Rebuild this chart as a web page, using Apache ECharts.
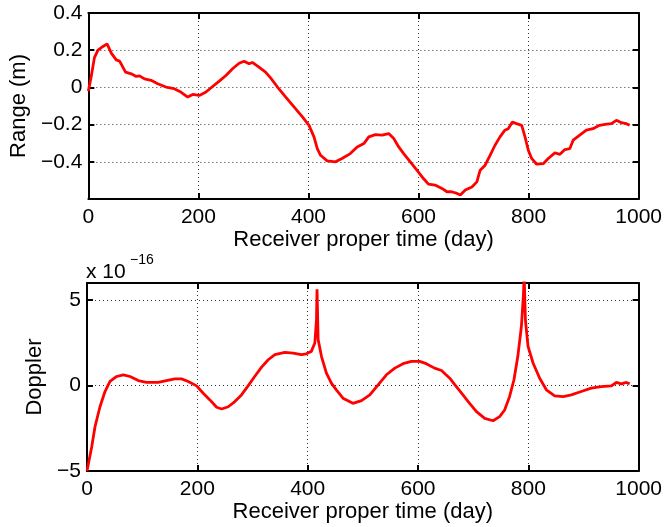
<!DOCTYPE html>
<html>
<head>
<meta charset="utf-8">
<script src="https://cdn.jsdelivr.net/npm/echarts@6/dist/echarts.min.js"></script>
<style>html,body{margin:0;padding:0;background:#fff}#c{width:665px;height:527px}</style>
</head>
<body>
<div id="c"></div>
<script>
// ---- data ----
var xTicks = [0, 200, 400, 600, 800, 1000];
var rangeTicks = [-0.4, -0.2, 0, 0.2, 0.4];
var dopplerTicks = [-5, 0, 5];

var rangeDays = [0, 5, 11, 17.5, 26.6, 34, 41.7, 50.7, 56.8, 67.6, 78, 87, 93, 102, 114, 126, 141, 156, 168, 180.6, 189.6, 201.7, 213.8, 225.8, 237.9, 250, 262, 274, 283, 292, 298, 310, 322, 331.5, 343.7, 358.7, 373.7, 389, 401, 410, 416, 422, 434, 449, 461, 476, 488.6, 500.6, 509.6, 521.7, 533.8, 545.8, 555, 564, 573, 585, 597, 609, 618, 630, 642.6, 651.6, 660, 670, 676, 685, 697, 706, 712, 721, 730, 739, 748, 757, 763, 770.5, 778, 787.5, 793.5, 799.5, 805.6, 814.6, 826.6, 835.7, 847.8, 857, 866, 875, 881, 893, 905, 917, 929, 941.5, 950.5, 959.6, 968.6, 977.7, 983.7];
var rangeM = [-0.02, 0.055, 0.16, 0.20, 0.22, 0.234, 0.184, 0.148, 0.141, 0.082, 0.073, 0.059, 0.062, 0.046, 0.038, 0.02, 0.002, -0.007, -0.025, -0.052, -0.038, -0.043, -0.025, 0.005, 0.034, 0.064, 0.10, 0.13, 0.141, 0.127, 0.134, 0.109, 0.082, 0.05, 0.002, -0.052, -0.105, -0.159, -0.204, -0.266, -0.329, -0.365, -0.395, -0.40, -0.382, -0.356, -0.32, -0.302, -0.266, -0.254, -0.257, -0.248, -0.275, -0.32, -0.356, -0.40, -0.445, -0.49, -0.52, -0.525, -0.543, -0.561, -0.561, -0.57, -0.579, -0.552, -0.535, -0.508, -0.445, -0.418, -0.365, -0.311, -0.266, -0.23, -0.222, -0.186, -0.195, -0.204, -0.266, -0.338, -0.382, -0.413, -0.41, -0.382, -0.352, -0.36, -0.334, -0.329, -0.284, -0.257, -0.23, -0.222, -0.204, -0.198, -0.195, -0.177, -0.19, -0.195, -0.204];

var dopplerDays = [0, 2.4, 8.5, 14.5, 23.5, 32.6, 41.7, 53.8, 65.8, 78, 93, 108, 129, 144, 159, 171.5, 183.5, 198.7, 210.7, 222.8, 235, 244, 256, 268, 280, 292, 304, 316.5, 328.5, 340.6, 358.7, 373.7, 388.6, 397.6, 406.7, 413, 416, 417, 419, 425, 434, 443, 452, 464, 482, 497.6, 512.7, 527.7, 542.8, 558, 573, 588, 603, 615, 630, 642.6, 657.6, 667, 679, 691, 706, 721, 736, 748, 757, 766, 774, 781, 787.5, 791, 792.5, 794.7, 799.5, 808.6, 820.6, 832.7, 847.8, 863, 878, 896, 914, 932, 950.5, 959.6, 968.6, 977.7, 983.7];
var doppler = [-5.0, -4.96, -3.59, -2.41, -1.24, -0.35, 0.24, 0.53, 0.63, 0.53, 0.29, 0.18, 0.18, 0.29, 0.39, 0.39, 0.24, -0.02, -0.45, -0.84, -1.27, -1.37, -1.24, -0.94, -0.55, -0.02, 0.53, 1.08, 1.51, 1.81, 1.94, 1.9, 1.81, 1.86, 2.0, 2.49, 3.86, 5.63, 2.69, 1.71, 0.73, 0.14, -0.25, -0.74, -1.04, -0.88, -0.55, 0.04, 0.63, 1.02, 1.28, 1.41, 1.41, 1.28, 1.02, 0.88, 0.43, 0.04, -0.45, -0.94, -1.53, -1.92, -2.06, -1.82, -1.43, -0.65, 0.34, 1.71, 3.47, 5.24, 6.4, 3.86, 2.29, 1.32, 0.43, -0.25, -0.61, -0.65, -0.55, -0.35, -0.15, -0.06, -0.02, 0.18, 0.1, 0.18, 0.1];

// ---- chart ----
function zip(a, b) { return a.map(function (v, i) { return [v, b[i]]; }); }
var FONT = "'Liberation Sans', Arial, Helvetica, sans-serif";
function fmt(v) {
  var s = String(Math.round(v * 1000) / 1000);
  return s.replace('-', '\u2212');
}
var gridLine = { show: true, lineStyle: { color: '#333', width: 1, type: [1, 3] } };
var axLine = { show: true, onZero: false, lineStyle: { color: '#000', width: 2 } };
var tick = { show: true, inside: true, length: 6, lineStyle: { color: '#000', width: 2 } };

function xAx(grid, pos, main) {
  return {
    type: 'value', gridIndex: grid, position: pos, min: 0, max: 1000, interval: 200,
    axisLine: axLine, axisTick: tick,
    splitLine: main ? gridLine : { show: false },
    axisLabel: main ? { show: true, color: '#000', fontSize: 21, fontFamily: FONT, margin: 8, formatter: fmt } : { show: false },
    name: main ? 'Receiver proper time (day)' : '', nameLocation: 'middle', nameGap: 22,
    nameTextStyle: { color: '#000', fontSize: 22, fontFamily: FONT, verticalAlign: 'top', padding: [0,0,0,0] }
  };
}
function yAx(grid, pos, main, min, max, interval, name, nameGap) {
  return {
    type: 'value', gridIndex: grid, position: pos, min: min, max: max, interval: interval,
    axisLine: axLine, axisTick: tick,
    splitLine: main ? gridLine : { show: false },
    axisLabel: main ? { show: true, color: '#000', fontSize: 21, fontFamily: FONT, margin: 6, formatter: fmt,
      showMinLabel: grid === 1, showMaxLabel: grid === 0 } : { show: false },
    name: main ? name : '', nameLocation: 'middle', nameGap: nameGap,
    nameTextStyle: { color: '#000', fontSize: 22, fontFamily: FONT }
  };
}

var chart = echarts.init(document.getElementById('c'), null, { renderer: 'canvas' });
chart.setOption({
  animation: false,
  backgroundColor: '#fff',
  grid: [
    { left: 87, top: 13, width: 552, height: 186 },
    { left: 87, top: 283, width: 552, height: 188 }
  ],
  xAxis: [xAx(0, 'bottom', true), xAx(0, 'top', false), xAx(1, 'bottom', true), xAx(1, 'top', false)],
  yAxis: [
    yAx(0, 'left', true, -0.6, 0.4, 0.2, 'Range (m)', 54),
    yAx(0, 'right', false, -0.6, 0.4, 0.2, '', 0),
    yAx(1, 'left', true, -5, 6, 5, 'Doppler', 39),
    yAx(1, 'right', false, -5, 6, 5, '', 0)
  ],
  graphic: [
    { type: 'text', left: 86, top: 262, style: { text: 'x 10', font: '21px ' + FONT, fill: '#000' } },
    { type: 'text', left: 130, top: 253, style: { text: '\u221216', font: '14px ' + FONT, fill: '#000' } }
  ],
  series: [
    { type: 'line', xAxisIndex: 0, yAxisIndex: 0, data: zip(rangeDays, rangeM), showSymbol: false,
      lineStyle: { color: '#ff0000', width: 2.8 }, clip: true },
    { type: 'line', xAxisIndex: 2, yAxisIndex: 2, data: zip(dopplerDays, doppler), showSymbol: false,
      lineStyle: { color: '#ff0000', width: 2.8 }, clip: true }
  ]
});
</script>
</body>
</html>
